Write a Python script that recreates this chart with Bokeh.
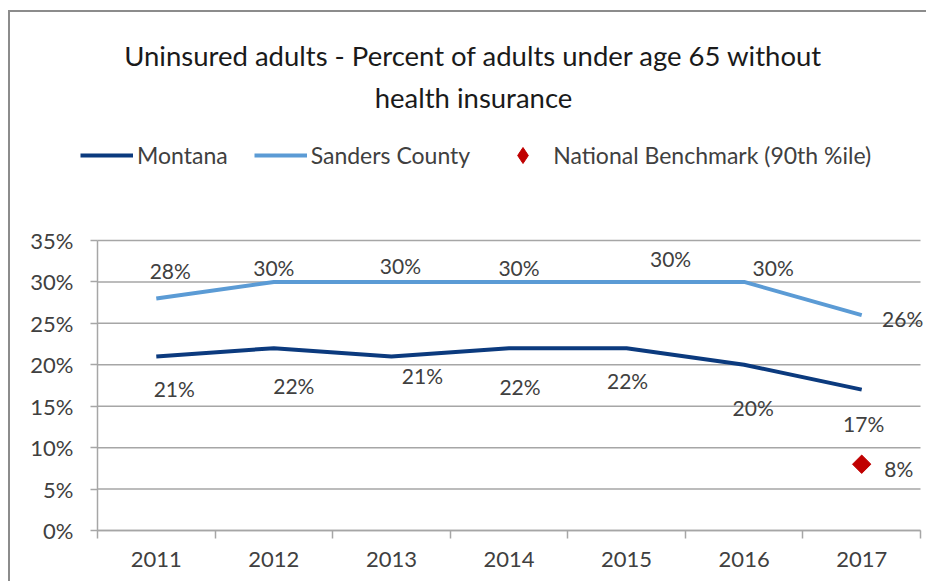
import math
from bokeh.plotting import figure
from bokeh.models import (ColumnDataSource, FixedTicker, PrintfTickFormatter, Range1d,
                          Legend, LegendItem, Label, InlineStyleSheet)
from bokeh.core.properties import value
from bokeh.embed import file_html
from bokeh.resources import INLINE

# ---- data ----
years = ["2011", "2012", "2013", "2014", "2015", "2016", "2017"]
montana = [21, 22, 21, 22, 22, 20, 17]
sanders = [28, 30, 30, 30, 30, 30, 26]
benchmark_year = "2017"
benchmark = [8]
y_ticks = [0, 5, 10, 15, 20, 25, 30, 35]
title_lines = ["Uninsured adults - Percent of adults under age 65 without", "health insurance"]

# ---- label offsets (style, px) ----
sanders_dx = [14, 0, 9, 10, 44, 29, 41]
sanders_dy = [-28, -14, -16, -14, -23, -14, 3]
montana_dx = [18, 20, 31, 11, 1, 9, 2]
montana_dy = [32, 37, 19, 38, 32, 43, 34]
bench_dx = [37]
bench_dy = [4]

FONT = "Lato"
TXT = "#404040"
GRID = "#a6a6a6"
C_MT = "#0b3a7e"
C_SC = "#5b9bd5"
C_BM = "#c00000"

# ---- geometry (px, canvas coordinates; frame fills the canvas except a left strip) ----
W, H = 918, 571
FRAME_L = 15                    # frame left edge
AXIS_X = 87                     # where the y axis sits
AXIS_R = 910                    # where the category area ends
AXIS_B = 518                    # where 0% sits
PLOT_TOP = 228                  # where 35% sits
n = len(years)
ymax = y_ticks[-1]
px_x = (AXIS_R - AXIS_X) / n
px_y = (AXIS_B - PLOT_TOP) / ymax

xpos = [i + 0.5 for i in range(n)]
bx = [years.index(benchmark_year) + 0.5]

p = figure(width=W, height=H, output_backend="svg", toolbar_location=None, title=None,
           x_range=Range1d(-(AXIS_X - FRAME_L) / px_x, n + (W - AXIS_R) / px_x),
           y_range=Range1d(-(H - AXIS_B) / px_y, AXIS_B / px_y),
           min_border_left=FRAME_L, min_border_right=0,
           min_border_top=0, min_border_bottom=0)
p.stylesheets = [InlineStyleSheet(css=":host { margin-left: 8px; margin-top: 10px; border-top: 2px solid #8c8c8c; border-left: 2px solid #8c8c8c; }")]
p.outline_line_color = None
p.background_fill_color = "white"
p.border_fill_color = "white"

# axes
p.xaxis.ticker = FixedTicker(ticks=xpos, minor_ticks=list(range(n + 1)))
p.xaxis.major_label_overrides = {x: y for x, y in zip(xpos, years)}
p.xaxis.bounds = (0, n)
p.xaxis.fixed_location = 0
p.xaxis.major_tick_out = 0
p.xaxis.major_tick_in = 0
p.xaxis.minor_tick_out = 8
p.xaxis.minor_tick_in = 0
p.xaxis.minor_tick_line_color = GRID
p.xaxis.minor_tick_line_width = 1.5
p.xaxis.axis_line_color = GRID
p.xaxis.axis_line_width = 1.5
p.xaxis.major_label_standoff = 13
p.yaxis.ticker = FixedTicker(ticks=y_ticks)
p.yaxis.formatter = PrintfTickFormatter(format="%d%%")
p.yaxis.bounds = (0, ymax)
p.yaxis.fixed_location = 0
p.yaxis.major_tick_out = 7
p.yaxis.major_tick_in = 0
p.yaxis.minor_tick_out = 0
p.yaxis.minor_tick_in = 0
p.yaxis.major_tick_line_color = GRID
p.yaxis.major_tick_line_width = 1.5
p.yaxis.axis_line_color = GRID
p.yaxis.axis_line_width = 1.5
p.yaxis.major_label_standoff = 17
for ax in (p.xaxis, p.yaxis):
    ax.major_label_text_font = FONT
    ax.major_label_text_font_size = "22px"
    ax.major_label_text_color = TXT
p.xgrid.grid_line_color = None
p.ygrid.grid_line_color = None

# horizontal gridlines spanning the category area only
p.segment(x0=[0] * len(y_ticks), x1=[n] * len(y_ticks), y0=y_ticks, y1=y_ticks,
          line_color=GRID, line_width=1.5)

# series
src_mt = ColumnDataSource(dict(x=xpos, y=montana, t=[f"{v}%" for v in montana], dx=montana_dx, dy=montana_dy))
src_sc = ColumnDataSource(dict(x=xpos, y=sanders, t=[f"{v}%" for v in sanders], dx=sanders_dx, dy=sanders_dy))
src_bm = ColumnDataSource(dict(x=bx, y=benchmark, t=[f"{v}%" for v in benchmark], dx=bench_dx, dy=bench_dy))

r_mt = p.line("x", "y", source=src_mt, line_color=C_MT, line_width=4)
r_sc = p.line("x", "y", source=src_sc, line_color=C_SC, line_width=4)
r_bm = p.scatter("x", "y", source=src_bm, marker="square", angle=math.pi / 4, size=13,
                 fill_color=C_BM, line_color=C_BM)
# legend swatch for the benchmark (legend markers ignore rotation); hidden under the marker
r_bm_key = p.scatter("x", "y", source=src_bm, marker="diamond", size=1,
                     fill_color=C_BM, line_color=C_BM)

for s in (src_mt, src_sc, src_bm):
    p.text("x", "y", text="t", source=s, x_offset="dx", y_offset="dy",
           text_font=value(FONT), text_font_size="21px", text_color=TXT,
           text_align="center", text_baseline="middle")

LEG_H = 40
legend = Legend(items=[LegendItem(label="Montana", renderers=[r_mt]),
                       LegendItem(label="Sanders County", renderers=[r_sc]),
                       LegendItem(label="National Benchmark (90th %ile)", renderers=[r_bm_key])],
                orientation="horizontal",
                location=(80 - 8 - 2 - FRAME_L, H - (155 - 12) - LEG_H // 2),
                border_line_color=None, background_fill_alpha=0, padding=0, margin=0,
                spacing=26, glyph_width=53, glyph_height=LEG_H, label_standoff=4,
                label_text_font=FONT, label_text_font_size="23px", label_text_color=TXT)
p.add_layout(legend)

for txt, yy in zip(title_lines, [55, 97]):
    p.add_layout(Label(x=463 - FRAME_L, y=H - (yy - 12), x_units="screen", y_units="screen", text=txt,
                       text_align="center", text_baseline="middle",
                       text_font=FONT, text_font_size="27.5px", text_color="#1a1a1a"))

open("out.html", "w").write(file_html(p, INLINE))
